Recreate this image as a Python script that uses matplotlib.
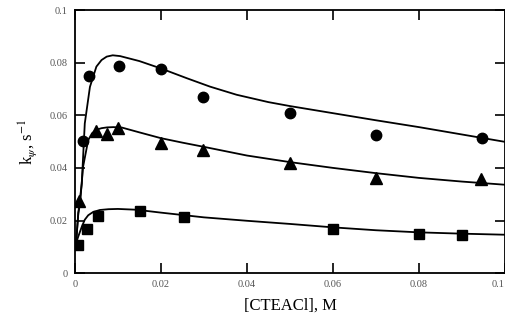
import matplotlib
matplotlib.use('Agg')
import matplotlib.pyplot as plt
import numpy as np

plt.rcParams['font.family'] = ['Liberation Serif', 'DejaVu Serif']
plt.rcParams['mathtext.fontset'] = 'stix'

# measured rate constants
circ_x = [0.0019, 0.0033, 0.0102, 0.020, 0.0298, 0.050, 0.070, 0.0947]
circ_y = [0.0502, 0.0749, 0.0787, 0.0776, 0.0670, 0.0608, 0.0525, 0.0513]
tri_x = [0.0009, 0.0048, 0.0075, 0.0101, 0.020, 0.0298, 0.0499, 0.070, 0.0945]
tri_y = [0.0274, 0.0540, 0.0530, 0.0553, 0.0495, 0.0468, 0.0418, 0.0360, 0.0357]
sq_x = [0.0008, 0.0028, 0.0053, 0.0151, 0.0254, 0.060, 0.080, 0.090]
sq_y = [0.0106, 0.0167, 0.0217, 0.0236, 0.0213, 0.0167, 0.0148, 0.0144]

# fitted curves
fit_circ_x = [0.0003, 0.0008, 0.0016, 0.0023, 0.0035, 0.0050, 0.0062, 0.0074, 0.0088,
              0.0105, 0.0150, 0.020, 0.026, 0.0314, 0.0376, 0.045, 0.050, 0.060,
              0.070, 0.080, 0.090, 0.100]
fit_circ_y = [0.012, 0.023, 0.034, 0.0569, 0.0708, 0.0785, 0.0810, 0.0823, 0.0828,
              0.0825, 0.0806, 0.0778, 0.0741, 0.0709, 0.0678, 0.0650, 0.0635, 0.0608,
              0.0581, 0.0555, 0.0527, 0.0499]
fit_tri_x = [0.0003, 0.0008, 0.0012, 0.0019, 0.0031, 0.0040, 0.0050, 0.0062, 0.0075,
             0.0090, 0.0110, 0.015, 0.020, 0.025, 0.030, 0.040, 0.050, 0.060,
             0.070, 0.080, 0.090, 0.100]
fit_tri_y = [0.012, 0.0228, 0.0265, 0.0404, 0.0506, 0.0532, 0.0545, 0.0551, 0.0554,
             0.0555, 0.0553, 0.0535, 0.0513, 0.0496, 0.0480, 0.0447, 0.0422, 0.0400,
             0.0380, 0.0362, 0.0348, 0.0336]
fit_sq_x = [0.0, 0.0008, 0.0016, 0.0023, 0.0031, 0.0042, 0.0058, 0.0078, 0.0100,
            0.0143, 0.020, 0.030, 0.040, 0.050, 0.060, 0.070, 0.080, 0.090, 0.100]
fit_sq_y = [0.0100, 0.0140, 0.0176, 0.0203, 0.0220, 0.0232, 0.0240, 0.0243, 0.0244,
            0.0241, 0.0230, 0.0212, 0.0199, 0.0187, 0.0174, 0.0163, 0.0155, 0.0150,
            0.0146]

xticks = [0, 0.02, 0.04, 0.06, 0.08, 0.1]
xticklabels = ['0', '0.02', '0.04', '0.06', '0.08', '0.1']
yticks = [0, 0.02, 0.04, 0.06, 0.08, 0.1]
yticklabels = ['0', '0.02', '0.04', '0.06', '0.08', '0.1']

fig = plt.figure(figsize=(5.06, 3.24), dpi=100)
ax = fig.add_axes([0.148, 0.157, 0.85, 0.812])

ax.plot(fit_circ_x, fit_circ_y, color='black', lw=1.3, solid_joinstyle='round')
ax.plot(fit_tri_x, fit_tri_y, color='black', lw=1.3, solid_joinstyle='round')
ax.plot(fit_sq_x, fit_sq_y, color='black', lw=1.3, solid_joinstyle='round')

ax.plot(circ_x, circ_y, 'o', color='black', ms=7.5)
ax.plot(tri_x, tri_y, '^', color='black', ms=8)
ax.plot(sq_x, sq_y, 's', color='black', ms=6.5)

ax.set_xlim(0, 0.1)
ax.set_ylim(0, 0.1)
ax.set_xticks(xticks)
ax.set_xticklabels(xticklabels)
ax.set_yticks(yticks)
ax.set_yticklabels(yticklabels)
ax.tick_params(direction='in', top=True, right=True, length=7, width=1.2,
               labelsize=7.5, labelcolor='#555555', pad=5)
# keep the last x label inside the figure
ax.get_xticklabels()[-1].set_horizontalalignment('right')
for s in ax.spines.values():
    s.set_linewidth(1.3)

ax.set_xlabel('[CTEACl], M', fontsize=12, labelpad=6)
ax.set_ylabel(r'k$_{\psi}$, s$^{-1}$', fontsize=12, labelpad=8)

fig.savefig('out.png', dpi=100)
